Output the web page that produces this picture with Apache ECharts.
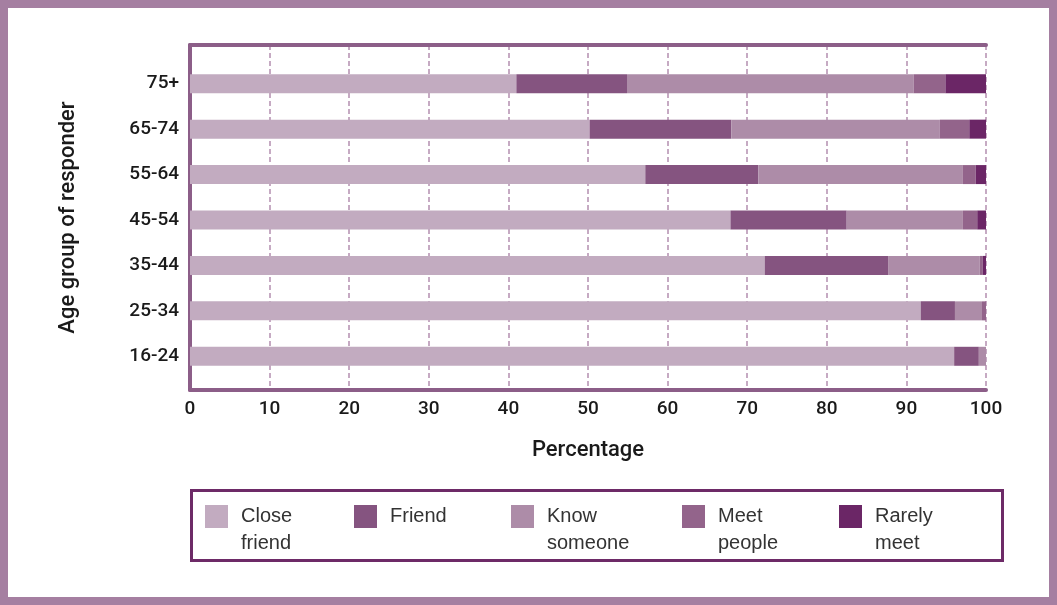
<!DOCTYPE html>
<html>
<head>
<meta charset="utf-8">
<script src="https://cdn.jsdelivr.net/npm/echarts@6/dist/echarts.min.js"></script>
<style>
body { margin: 0; background: #fff; }
#main { width: 1057px; height: 605px; }
</style>
</head>
<body>
<div id="main"></div>
<script type="text/javascript">
	// age groups, bottom to top
	var ageGroups = [ '16-24', '25-34', '35-44', '45-54', '55-64', '65-74', '75+' ];
	var closeFriend = [ 96.0, 91.8, 72.2, 67.9, 57.2, 50.2, 41.0 ];
	var friend = [ 3.1, 4.3, 15.5, 14.6, 14.2, 17.8, 13.9 ];
	var knowSomeone = [ 0.9, 3.4, 11.5, 14.6, 25.7, 26.2, 36.0 ];
	var meetPeople = [ 0, 0.5, 0.4, 1.8, 1.6, 3.7, 4.0 ];
	var rarelyMeet = [ 0, 0, 0.4, 1.1, 1.3, 2.1, 5.1 ];
	var seriesNames = [ 'Close\nfriend', 'Friend', 'Know\nsomeone', 'Meet\npeople', 'Rarely\nmeet' ];
	var colors = [ '#c2abc0', '#855480', '#ad8ca8', '#93648b', '#6b2666' ];

	var lineColor = '#8c5e88';
	var labelFont = {
		fontFamily : 'Roboto',
		fontWeight : 500,
		fontSize : 19,
		color : '#1a1a1a'
	};

	var myChart = echarts.init(document.getElementById('main'));

	var seriesData = [ closeFriend, friend, knowSomeone, meetPeople, rarelyMeet ];
	var series = [];
	for (var i = 0; i < seriesNames.length; i++) {
		series.push({
			name : seriesNames[i],
			type : 'bar',
			stack : 'total',
			barWidth : 19,
			xAxisIndex : 1,
			yAxisIndex : 1,
			itemStyle : {
				color : colors[i]
			},
			data : seriesData[i]
		});
	}

	// one legend per item so the spacing can follow the picture
	var legendLeft = [ 205, 354, 511, 682, 839 ];
	var legends = [];
	for (var j = 0; j < seriesNames.length; j++) {
		var twoLines = seriesNames[j].indexOf('\n') >= 0;
		legends.push({
			data : [ seriesNames[j] ],
			left : legendLeft[j],
			top : twoLines ? 476 : 503,
			padding : 0,
			icon : 'rect',
			itemWidth : 23,
			itemHeight : 23,
			selectedMode : false,
			// empty first line keeps the swatch level with the first text line
			formatter : function(name) {
				return name.indexOf('\n') >= 0 ? '\n' + name : name;
			},
			textStyle : {
				fontFamily : 'Liberation Sans',
				fontSize : 20,
				lineHeight : 27,
				color : '#333',
				padding : [ 0, 0, 0, 8 ]
			}
		});
	}

	var option = {
		animation : false,
		color : colors,
		legend : legends,
		grid : [ {
			left : 190,
			right : 71,
			top : 61,
			height : 318
		}, {
			left : 190,
			right : 71,
			top : 45,
			bottom : 215
		} ],
		xAxis : [ {
			// frame axis with ticks and grid lines
			type : 'value',
			gridIndex : 1,
			min : 0,
			max : 100,
			interval : 10,
			name : 'Percentage',
			nameLocation : 'middle',
			nameGap : 49,
			nameTextStyle : {
				fontFamily : 'Roboto',
				fontWeight : 500,
				fontSize : 22,
				color : '#1a1a1a'
			},
			axisLine : {
				show : true,
				lineStyle : {
					color : lineColor,
					width : 4
				}
			},
			axisTick : {
				show : false
			},
			axisLabel : {
				margin : 10,
				fontFamily : labelFont.fontFamily,
				fontWeight : labelFont.fontWeight,
				fontSize : labelFont.fontSize,
				color : labelFont.color
			},
			splitLine : {
				show : true,
				lineStyle : {
					color : '#b48fb0',
					width : 1.5,
					type : [ 5, 3 ]
				}
			}
		}, {
			// bar axis
			type : 'value',
			gridIndex : 0,
			min : 0,
			max : 100,
			show : false
		}, {
			// top frame line
			type : 'value',
			gridIndex : 1,
			position : 'top',
			min : 0,
			max : 100,
			axisLine : {
				show : true,
				lineStyle : {
					color : lineColor,
					width : 4
				}
			},
			axisTick : {
				show : false
			},
			axisLabel : {
				show : false
			},
			splitLine : {
				show : false
			}
		} ],
		yAxis : [ {
			type : 'value',
			gridIndex : 1,
			min : 0,
			max : 1,
			name : 'Age group of responder',
			nameLocation : 'middle',
			nameGap : 111,
			nameTextStyle : {
				fontFamily : 'Roboto',
				fontWeight : 500,
				fontSize : 22,
				color : '#1a1a1a'
			},
			axisLine : {
				show : true,
				lineStyle : {
					color : lineColor,
					width : 4
				}
			},
			axisTick : {
				show : false
			},
			axisLabel : {
				show : false
			},
			splitLine : {
				show : false
			}
		}, {
			type : 'category',
			gridIndex : 0,
			data : ageGroups,
			axisLine : {
				show : false
			},
			axisTick : {
				show : false
			},
			axisLabel : {
				margin : 11,
				fontFamily : labelFont.fontFamily,
				fontWeight : labelFont.fontWeight,
				fontSize : labelFont.fontSize,
				color : labelFont.color
			}
		} ],
		graphic : [ {
			// outer frame
			type : 'rect',
			shape : {
				x : 0,
				y : 0,
				width : 1057,
				height : 605
			},
			style : {
				fill : 'none',
				stroke : '#a57fa1',
				lineWidth : 16
			},
			silent : true
		}, {
			// legend box
			type : 'rect',
			shape : {
				x : 191.5,
				y : 490.5,
				width : 811,
				height : 70
			},
			style : {
				fill : 'none',
				stroke : '#6d2a67',
				lineWidth : 3
			},
			silent : true
		} ],
		series : series
	};
	myChart.setOption(option);
</script>
</body>
</html>
